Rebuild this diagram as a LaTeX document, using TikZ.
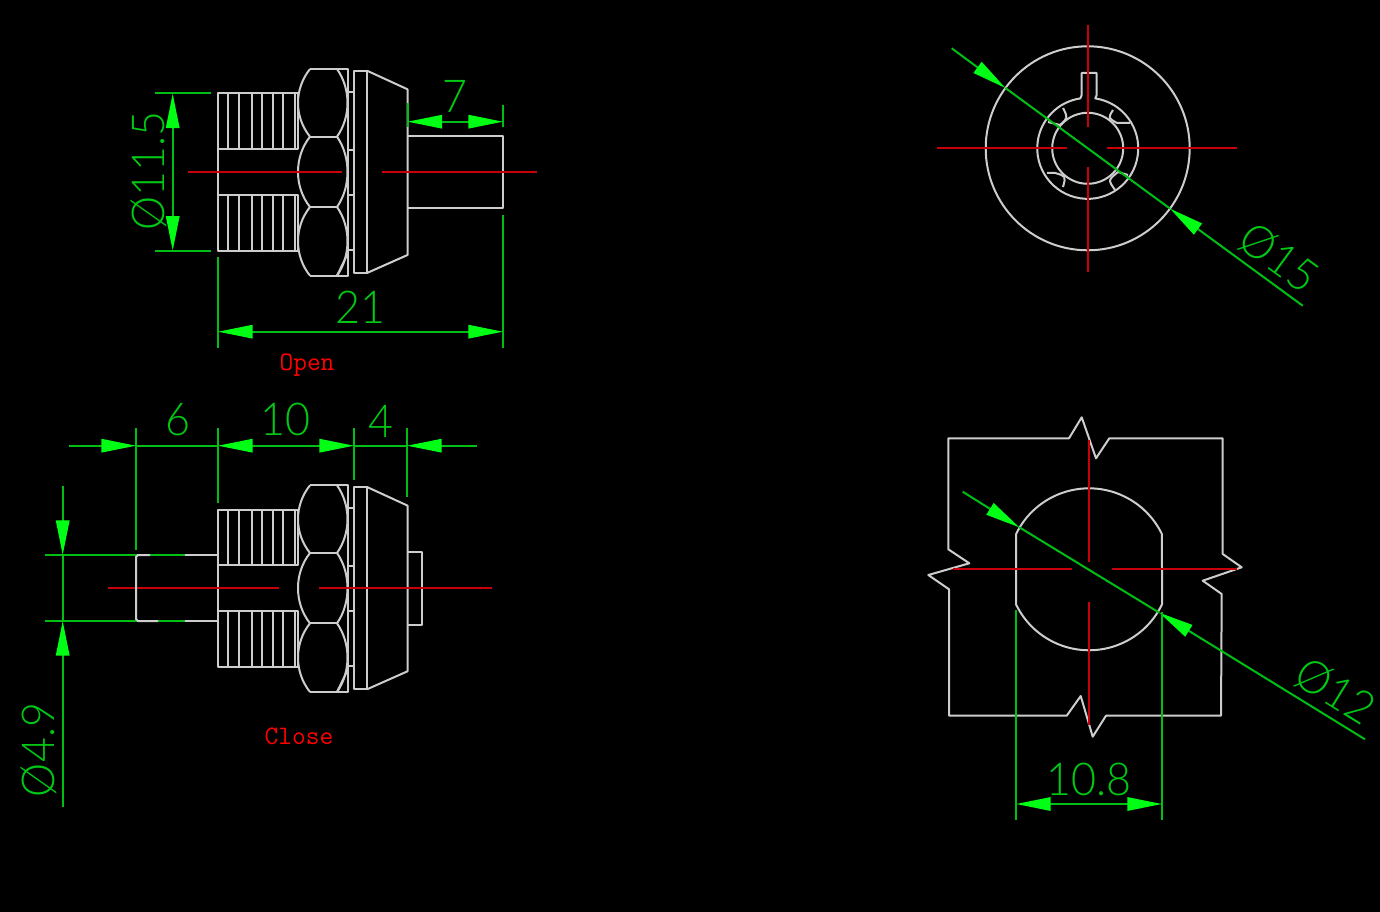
\documentclass[tikz,border=0pt]{standalone}
\usepackage{fontspec}
\usetikzlibrary{arrows.meta}
\newfontfamily\cadfont[FakeStretch=0.95]{Lato Light}
\definecolor{partgray}{RGB}{205,205,205}
\definecolor{axisred}{RGB}{200,0,10}
\definecolor{dimgreen}{RGB}{0,190,20}
\definecolor{tipgreen}{RGB}{0,255,20}
\tikzset{
  part/.style={draw=partgray,line width=1.5pt,line join=round},
  axis/.style={draw=axisred,line width=1.5pt},
  dimline/.style={draw=dimgreen,line width=1.5pt},
  dimtip/.tip={Triangle[length=26pt,width=10pt,color=tipgreen]},
  dimtext/.style={text=dimgreen!85!tipgreen,inner sep=0pt,font=\cadfont\fontsize{34}{34}\selectfont},
  notetext/.style={text=red,inner sep=0pt,font=\ttfamily\fontsize{20}{20}\selectfont},
  knob/.pic={
    % Drawing knurled sleeve
    \draw [part] (218,93.5) rectangle (298,148.7);
    \draw [part] (218,195) rectangle (298,250.7);
    \draw [part] (218,148.7) -- (218,195);
    \foreach \ribx in {228,239,252,262,273,283,295} {
      \draw [part] (\ribx,93.5) -- (\ribx,148.7);
      \draw [part] (\ribx,195) -- (\ribx,250.7);
    }
    % Drawing hex nut
    \draw [part] (310,69) -- (348,69) -- (348,275.7) -- (310,275.7);
    \draw [part] (310,136.7) -- (337,136.7);
    \draw [part] (310,207) -- (337,207);
    \foreach \flata/\flatb in {69/136.7,136.7/207,207/275.7} {
      \draw [part] (310,\flata) .. controls (294,{\flata+20}) and (294,{\flatb-20}) .. (310,\flatb);
      \draw [part] (337,\flata) .. controls (351,{\flata+20}) and (351,{\flatb-20}) .. (337,\flatb);
    }
    \draw [part] (348,253) -- (337,275.7);
    % Drawing washer ends
    \foreach \washy in {92,150,195,250} {
      \draw [part] (348,\washy) -- (353.5,\washy);
    }
    % Drawing flange and cone
    \draw [part] (353.5,70.7) rectangle (367,273);
    \draw [part] (367,70.7) -- (407.5,89.3) -- (407.5,255) -- (367,273);
  }
}
\begin{document}
\begin{tikzpicture}[x=0.75pt,y=-0.75pt]
  \useasboundingbox (0,0) rectangle (1380,912);
  \fill [black] (0,0) rectangle (1380,912);

  % Drawing open view
  \pic at (0,0) {knob};
  \draw [part] (407.5,136) -- (503,136) -- (503,208) -- (407.5,208);

  % Drawing axes of open view
  \draw [axis] (188,172.3) -- (342,172.3);
  \draw [axis] (381.7,172.3) -- (536.7,172.3);

  % Drawing dimension 11.5
  \draw [dimline] (155,93.5) -- (210.7,93.5);
  \draw [dimline] (155,250.7) -- (210.7,250.7);
  \draw [dimline,{dimtip}-{dimtip}] (172.7,93.5) -- (172.7,250.7);
  \node (dimwidth) [dimtext,rotate=90] at (149,171) {Ø11.5};

  % Drawing dimension 7
  \draw [dimline] (407.5,103) -- (407.5,127);
  \draw [dimline] (503,105) -- (503,127);
  \draw [dimline,{dimtip}-{dimtip}] (407.5,121.7) -- (503,121.7);
  \node (dimstem) [dimtext] at (455,96) {7};

  % Drawing dimension 21
  \draw [dimline] (218,257) -- (218,348);
  \draw [dimline] (503,215) -- (503,348);
  \draw [dimline,{dimtip}-{dimtip}] (218,331.7) -- (503,331.7);
  \node (dimtotal) [dimtext] at (360,307) {21};

  \node (openlabel) [notetext] at (307,365) {Open};

  % Drawing close view
  \pic at (0,416.3) {knob};
  \draw [part] (407.5,552) -- (421.7,552) -- (421.7,625) -- (407.5,625);
  \draw [part] (218,555) -- (185,555);
  \draw [part] (218,621) -- (185,621);

  % Drawing axes of close view
  \draw [axis] (108,588.3) -- (279,588.3);
  \draw [axis] (319,588.3) -- (491.7,588.3);

  % Drawing chain of dimensions 6 10 4
  \draw [dimline] (136,428) -- (136,550);
  \draw [dimline] (218,428) -- (218,503);
  \draw [dimline] (354,428) -- (354,480);
  \draw [dimline] (407,428) -- (407,497);
  \draw [dimline,-{dimtip}] (69,445.7) -- (136,445.7);
  \draw [dimline] (136,445.7) -- (218,445.7);
  \draw [dimline,{dimtip}-{dimtip}] (218,445.7) -- (354,445.7);
  \draw [dimline] (354,445.7) -- (407,445.7);
  \draw [dimline,-{dimtip}] (477,445.7) -- (407,445.7);
  \node (dimshaft) [dimtext] at (178,420) {6};
  \node (dimbody) [dimtext] at (285,419) {10};
  \node (dimcap) [dimtext] at (381,421) {4};

  % Drawing dimension 4.9
  \draw [dimline] (45,555) -- (185,555);
  \draw [dimline] (45,621) -- (185,621);
  \draw [dimline,-{dimtip}] (62.7,486) -- (62.7,555);
  \draw [dimline] (62.7,555) -- (62.7,621);
  \draw [dimline,-{dimtip}] (62.7,807) -- (62.7,621);
  \node (dimbore) [dimtext,rotate=90] at (39,750) {Ø4.9};

  % Drawing shaft end over dimension lines
  \draw [part] (150,555) -- (138,555) -- (136,557) -- (136,619) -- (138,621) -- (158,621);

  \node (closelabel) [notetext] at (299,736) {Close};

  % Drawing round view
  \draw [part] (1087.7,148.3) circle (102);
  \draw [part] (1087.7,148.3) circle (35.5);
  \draw [part] (1081.7,95) -- (1081.7,73) -- (1096.7,73) -- (1096.7,95) -- (1095.2,98.4)
    arc [start angle=278.5,end angle=621.5,radius=50.5] -- cycle;

  % Drawing four notches
  \draw [part] (1113,110) .. controls (1108,118) .. (1117,123) -- (1130,123);
  \draw [part] (1063,108) .. controls (1068,118) .. (1060,125) -- (1048,122);
  \draw [part] (1047,173) -- (1055,173) .. controls (1066,176) .. (1063,187);
  \draw [part] (1128,175) -- (1118,172) .. controls (1108,180) .. (1115,190);

  % Drawing axes of round view
  \draw [axis] (936.7,148.3) -- (1066.7,148.3);
  \draw [axis] (1106.7,148.3) -- (1236.7,148.3);
  \draw [axis] (1087.7,25) -- (1087.7,126.7);
  \draw [axis] (1087.7,166.7) -- (1087.7,271.7);

  % Drawing dimension 15
  \draw [dimline,-{dimtip}] (951.7,48.3) -- (1005.4,88);
  \draw [dimline] (1005.4,88) -- (1170,208.6);
  \draw [dimline,-{dimtip}] (1302.7,305.7) -- (1170,208.6);
  \node (dimouter) [dimtext,rotate=-36.2] at (1279,258) {Ø15};

  % Drawing panel cut-out
  \draw [part] (948.3,438.3) -- (1069,438.3) -- (1081.7,417.3) -- (1096,458.3) -- (1109.3,438.3)
    -- (1222.7,438.3) -- (1222.7,554) -- (1241.7,567.3) -- (1202.7,580.7) -- (1221.7,594)
    -- (1221,715.7) -- (1106,715.7) -- (1092.7,736.7) -- (1080.7,696) -- (1066.7,715.7)
    -- (949,715.7) -- (949,589.3) -- (928.3,575) -- (969.3,563.3) -- (948.3,549.3) -- cycle;

  % Drawing double flat hole
  \draw [part] (1016,534.2) arc [start angle=205.7,end angle=334.3,radius=81]
    -- (1162,604.4) arc [start angle=25.7,end angle=154.3,radius=81] -- cycle;

  % Drawing axes of cut-out
  \draw [axis] (953,569.3) -- (1071.7,569.3);
  \draw [axis] (1111.7,569.3) -- (1236.7,569.3);
  \draw [axis] (1089.3,440) -- (1089.3,561.7);
  \draw [axis] (1089.3,601.7) -- (1089.3,725);

  % Drawing dimension 12
  \draw [dimline,-{dimtip}] (962.7,491.7) -- (1019.3,527.3);
  \draw [dimline] (1019.3,527.3) -- (1159.3,612.7);
  \draw [dimline,-{dimtip}] (1365,739.3) -- (1159.3,612.7);
  \node (dimhole) [dimtext,rotate=-31.6] at (1335,691) {Ø12};

  % Drawing dimension 10.8
  \draw [dimline] (1016,610) -- (1016,820);
  \draw [dimline] (1162,611.7) -- (1162,820);
  \draw [dimline,{dimtip}-{dimtip}] (1016,804) -- (1162,804);
  \node (dimflat) [dimtext] at (1089,779) {10.8};
\end{tikzpicture}
\end{document}
